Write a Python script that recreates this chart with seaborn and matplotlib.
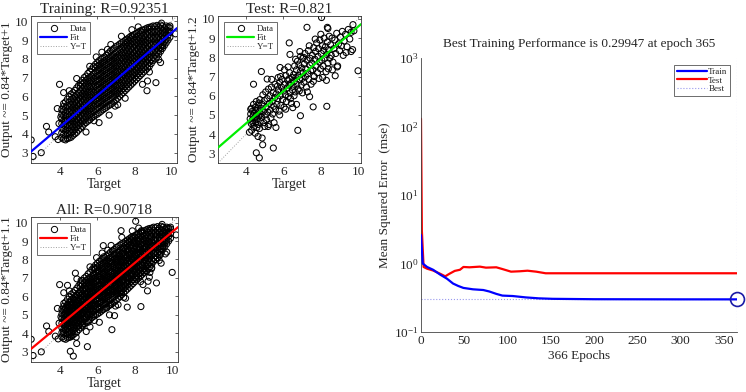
import pandas as pd
import matplotlib
matplotlib.use("Agg")
import matplotlib.pyplot as plt
import seaborn as sns
from matplotlib.lines import Line2D

# ==========================================
# 데이터
# ==========================================
# Training 점군: (Target, [Output ...]) 열 단위로 읽음
TRAIN_COLUMNS = [
    (4.1, [3.80, 4.05, 4.30, 4.55, 4.80, 5.05, 5.30]),
    (4.2, [3.72, 3.97, 4.22, 4.47, 4.72, 4.97, 5.22, 5.47, 5.62]),
    (4.3, [3.68, 3.90, 4.15, 4.40, 4.65, 4.90, 5.15, 5.40, 5.70]),
    (4.4, [3.75, 4.02, 4.27, 4.52, 4.77, 5.02, 5.27, 5.52, 5.85]),
    (4.5, [3.78, 3.95, 4.20, 4.45, 4.70, 4.95, 5.20, 5.45, 5.70, 5.98]),
    (4.6, [3.82, 4.07, 4.32, 4.57, 4.82, 5.07, 5.32, 5.57, 5.82, 6.12]),
    (4.7, [3.92, 4.15, 4.40, 4.65, 4.90, 5.15, 5.40, 5.65, 5.90, 6.20]),
    (4.8, [4.00, 4.25, 4.50, 4.75, 5.00, 5.25, 5.50, 5.75, 6.00, 6.32]),
    (4.9, [4.08, 4.35, 4.60, 4.85, 5.10, 5.35, 5.60, 5.85, 6.10, 6.45]),
    (5.0, [4.20, 4.45, 4.70, 4.95, 5.20, 5.45, 5.70, 5.95, 6.20, 6.58]),
    (5.1, [4.30, 4.55, 4.80, 5.05, 5.30, 5.55, 5.80, 6.05, 6.30, 6.55, 6.72]),
    (5.2, [4.40, 4.65, 4.90, 5.15, 5.40, 5.65, 5.90, 6.15, 6.40, 6.65, 6.85]),
    (5.3, [4.52, 4.75, 5.00, 5.25, 5.50, 5.75, 6.00, 6.25, 6.50, 6.75, 7.00]),
    (5.4, [4.60, 4.85, 5.10, 5.35, 5.60, 5.85, 6.10, 6.35, 6.60, 6.85, 7.08]),
    (5.5, [4.68, 4.95, 5.20, 5.45, 5.70, 5.95, 6.20, 6.45, 6.70, 6.95, 7.22]),
    (5.6, [4.75, 5.02, 5.27, 5.52, 5.77, 6.02, 6.27, 6.52, 6.77, 7.02, 7.32]),
    (5.7, [4.85, 5.10, 5.35, 5.60, 5.85, 6.10, 6.35, 6.60, 6.85, 7.10, 7.45]),
    (5.8, [4.92, 5.20, 5.45, 5.70, 5.95, 6.20, 6.45, 6.70, 6.95, 7.20, 7.58]),
    (5.9, [5.00, 5.28, 5.53, 5.78, 6.03, 6.28, 6.53, 6.78, 7.03, 7.28, 7.53, 7.70]),
    (6.0, [5.05, 5.35, 5.60, 5.85, 6.10, 6.35, 6.60, 6.85, 7.10, 7.35, 7.60, 7.80]),
    (6.1, [5.12, 5.40, 5.65, 5.90, 6.15, 6.40, 6.65, 6.90, 7.15, 7.40, 7.65, 7.90]),
    (6.2, [5.20, 5.48, 5.73, 5.98, 6.23, 6.48, 6.73, 6.98, 7.23, 7.48, 7.73, 7.98]),
    (6.3, [5.28, 5.55, 5.80, 6.05, 6.30, 6.55, 6.80, 7.05, 7.30, 7.55, 7.80, 8.05]),
    (6.4, [5.35, 5.63, 5.88, 6.13, 6.38, 6.63, 6.88, 7.13, 7.38, 7.63, 7.88, 8.10]),
    (6.5, [5.42, 5.70, 5.95, 6.20, 6.45, 6.70, 6.95, 7.20, 7.45, 7.70, 7.95, 8.20]),
    (6.6, [5.50, 5.78, 6.03, 6.28, 6.53, 6.78, 7.03, 7.28, 7.53, 7.78, 8.03, 8.30]),
    (6.7, [5.55, 5.85, 6.10, 6.35, 6.60, 6.85, 7.10, 7.35, 7.60, 7.85, 8.10, 8.40]),
    (6.8, [5.62, 5.92, 6.17, 6.42, 6.67, 6.92, 7.17, 7.42, 7.67, 7.92, 8.17, 8.48]),
    (6.9, [5.70, 6.00, 6.25, 6.50, 6.75, 7.00, 7.25, 7.50, 7.75, 8.00, 8.25, 8.55]),
    (7.0, [5.80, 6.08, 6.33, 6.58, 6.83, 7.08, 7.33, 7.58, 7.83, 8.08, 8.33, 8.65]),
    (7.1, [5.90, 6.15, 6.40, 6.65, 6.90, 7.15, 7.40, 7.65, 7.90, 8.15, 8.40, 8.70]),
    (7.2, [6.00, 6.25, 6.50, 6.75, 7.00, 7.25, 7.50, 7.75, 8.00, 8.25, 8.50, 8.78]),
    (7.3, [6.10, 6.33, 6.58, 6.83, 7.08, 7.33, 7.58, 7.83, 8.08, 8.33, 8.58, 8.85]),
    (7.4, [6.20, 6.42, 6.67, 6.92, 7.17, 7.42, 7.67, 7.92, 8.17, 8.42, 8.67, 8.90]),
    (7.5, [6.30, 6.52, 6.77, 7.02, 7.27, 7.52, 7.77, 8.02, 8.27, 8.52, 8.77, 8.98]),
    (7.6, [6.40, 6.62, 6.87, 7.12, 7.37, 7.62, 7.87, 8.12, 8.37, 8.62, 8.87, 9.05]),
    (7.7, [6.50, 6.72, 6.97, 7.22, 7.47, 7.72, 7.97, 8.22, 8.47, 8.72, 8.97, 9.12]),
    (7.8, [6.60, 6.82, 7.07, 7.32, 7.57, 7.82, 8.07, 8.32, 8.57, 8.82, 9.07, 9.20]),
    (7.9, [6.70, 6.92, 7.17, 7.42, 7.67, 7.92, 8.17, 8.42, 8.67, 8.92, 9.17, 9.25]),
    (8.0, [6.80, 7.02, 7.27, 7.52, 7.77, 8.02, 8.27, 8.52, 8.77, 9.02, 9.30]),
    (8.1, [6.90, 7.12, 7.37, 7.62, 7.87, 8.12, 8.37, 8.62, 8.87, 9.12, 9.35]),
    (8.2, [7.00, 7.22, 7.47, 7.72, 7.97, 8.22, 8.47, 8.72, 8.97, 9.22, 9.42]),
    (8.3, [7.10, 7.32, 7.57, 7.82, 8.07, 8.32, 8.57, 8.82, 9.07, 9.32, 9.48]),
    (8.4, [7.20, 7.42, 7.67, 7.92, 8.17, 8.42, 8.67, 8.92, 9.17, 9.42, 9.52]),
    (8.5, [7.30, 7.52, 7.77, 8.02, 8.27, 8.52, 8.77, 9.02, 9.27, 9.55]),
    (8.6, [7.40, 7.62, 7.87, 8.12, 8.37, 8.62, 8.87, 9.12, 9.37, 9.60]),
    (8.7, [7.50, 7.72, 7.97, 8.22, 8.47, 8.72, 8.97, 9.22, 9.47, 9.65]),
    (8.8, [7.60, 7.82, 8.07, 8.32, 8.57, 8.82, 9.07, 9.32, 9.57, 9.68]),
    (8.9, [7.75, 7.95, 8.20, 8.45, 8.70, 8.95, 9.20, 9.45, 9.70]),
    (9.0, [7.90, 8.08, 8.33, 8.58, 8.83, 9.08, 9.33, 9.58, 9.75]),
    (9.1, [8.00, 8.20, 8.45, 8.70, 8.95, 9.20, 9.45, 9.72]),
    (9.2, [8.10, 8.32, 8.57, 8.82, 9.07, 9.32, 9.57, 9.78]),
    (9.3, [8.25, 8.45, 8.70, 8.95, 9.20, 9.45, 9.70]),
    (9.4, [8.40, 8.60, 8.85, 9.10, 9.35, 9.60, 9.80]),
    (9.5, [8.55, 8.75, 9.00, 9.25, 9.50, 9.75]),
    (9.6, [8.70, 8.90, 9.15, 9.40, 9.65]),
    (9.7, [8.85, 9.05, 9.30, 9.55, 9.75]),
    (9.8, [9.00, 9.25, 9.50, 9.70]),
    (9.9, [9.15, 9.40, 9.65]),
]
# Training 외곽 점 (Target, Output)
TRAIN_OUTLIERS = [
    (2.46, 3.68), (2.56, 2.80), (3.00, 3.00), (3.28, 4.40), (3.40, 4.10), (3.98, 6.64), (3.86, 5.35), (3.95, 4.55),
    (3.75, 3.85), (6.64, 5.00), (6.96, 5.48), (5.83, 4.70), (7.86, 9.55), (8.67, 6.30), (9.50, 8.67), (10.20, 9.33),
    (9.90, 9.75), (7.30, 9.20), (8.80, 7.30), (9.40, 7.80), (6.55, 8.50), (6.73, 8.76), (8.43, 6.64), (8.70, 6.82),
    (9.15, 6.73), (9.30, 7.95), (4.20, 6.20), (4.50, 6.30), (5.40, 4.10), (6.10, 4.60), (7.50, 5.90), (8.20, 9.70),
    (9.45, 9.90), (5.60, 7.60), (4.90, 6.95), (5.95, 8.10), (6.25, 8.35), (7.10, 5.55), (4.05, 4.90), (3.90, 3.70),
]

# Test: (Target, Output)
TEST_POINTS = [
    (4.22, 4.80), (4.25, 5.05), (4.28, 4.55), (4.30, 5.35), (4.33, 4.72), (4.35, 5.20), (4.38, 4.95), (4.40, 5.55),
    (4.42, 4.40), (4.45, 5.10), (4.47, 4.85), (4.50, 5.40), (4.52, 4.62), (4.55, 5.70), (4.57, 5.00), (4.60, 4.78),
    (4.62, 5.25), (4.64, 4.50), (4.66, 5.50), (4.68, 4.95), (4.70, 5.15), (4.72, 4.30), (4.74, 5.80), (4.76, 4.68),
    (4.78, 5.35), (4.80, 5.05), (4.25, 5.30), (4.36, 4.60), (4.48, 5.25), (4.58, 4.35), (4.69, 5.62), (4.30, 4.20),
    (4.84, 4.88), (4.86, 5.55), (4.90, 6.05), (4.93, 5.20), (4.95, 4.60), (4.98, 5.75), (5.02, 5.00), (5.05, 6.20),
    (5.08, 5.40), (5.10, 4.75), (5.13, 5.85), (5.16, 5.15), (5.20, 6.35), (5.22, 4.50), (5.25, 5.60), (5.28, 6.00),
    (5.30, 5.25), (5.33, 4.85), (5.36, 6.45), (5.40, 5.70), (5.42, 5.05), (5.45, 6.15), (5.48, 5.45), (5.50, 4.60),
    (5.53, 5.90), (5.55, 6.60), (5.58, 5.30), (5.00, 4.40), (5.18, 4.40), (5.37, 6.85),
    (5.62, 6.10), (5.65, 5.55), (5.68, 6.50), (5.70, 5.85), (5.74, 6.30), (5.77, 5.20), (5.80, 6.70), (5.83, 6.00),
    (5.86, 5.50), (5.90, 6.45), (5.93, 6.85), (5.96, 5.80), (6.00, 6.25), (6.03, 5.40), (6.06, 6.60), (6.10, 6.05),
    (6.13, 7.05), (6.16, 5.70), (6.20, 6.40), (6.23, 6.80), (6.26, 5.95), (6.30, 6.55), (6.33, 7.20), (6.36, 6.15),
    (6.40, 6.65), (6.43, 5.60), (6.46, 6.95), (6.48, 6.30), (5.85, 7.00), (6.05, 7.35), (6.25, 7.50), (6.12, 5.30),
    (5.72, 6.95), (6.38, 5.85), (6.30, 6.88),
    (6.52, 6.50), (6.55, 7.10), (6.58, 6.75), (6.60, 7.55), (6.63, 6.20), (6.66, 6.95), (6.70, 7.35), (6.72, 6.60),
    (6.75, 7.80), (6.78, 6.35), (6.80, 7.05), (6.83, 7.60), (6.86, 6.85), (6.90, 7.25), (6.92, 8.05), (6.95, 6.55),
    (6.98, 7.45), (7.00, 6.90), (7.03, 7.95), (7.06, 7.20), (7.10, 6.70), (7.12, 7.65), (7.15, 8.20), (7.18, 7.00),
    (7.20, 7.40), (7.23, 6.45), (7.26, 7.85), (7.30, 7.15), (7.33, 8.35), (7.36, 6.85), (7.40, 7.60), (7.43, 7.95),
    (7.46, 7.30), (7.48, 6.60), (6.65, 7.90), (6.88, 8.30), (7.08, 8.00), (7.28, 6.20), (6.57, 6.00), (7.38, 8.60),
    (6.85, 6.25), (7.02, 6.15),
    (7.52, 7.70), (7.55, 8.10), (7.58, 7.35), (7.62, 8.50), (7.65, 7.00), (7.68, 7.90), (7.72, 8.30), (7.75, 7.55),
    (7.78, 8.75), (7.82, 7.20), (7.85, 8.05), (7.88, 8.45), (7.92, 7.75), (7.95, 8.90), (7.98, 7.40), (8.02, 8.20),
    (8.05, 7.85), (8.08, 8.60), (8.12, 7.55), (8.15, 8.35), (8.18, 9.00), (8.22, 7.95), (8.25, 8.55), (8.28, 7.25),
    (8.32, 8.15), (8.35, 8.80), (8.38, 7.70), (8.42, 8.40), (8.45, 9.10), (8.48, 7.95), (7.60, 6.75), (7.90, 6.90),
    (8.10, 6.95), (8.30, 6.80), (7.70, 8.95), (8.00, 9.20), (8.40, 7.40),
    (8.52, 8.65), (8.56, 8.10), (8.60, 9.00), (8.65, 7.75), (8.70, 8.45), (8.75, 8.90), (8.80, 8.20), (8.85, 9.25),
    (8.90, 7.55), (8.95, 8.70), (9.00, 8.35), (9.05, 9.05), (9.10, 8.60), (9.15, 9.35), (9.20, 8.10), (9.25, 8.85),
    (9.32, 9.20), (9.40, 8.55), (9.47, 9.45), (9.55, 8.95), (9.62, 9.30), (9.70, 8.40), (8.62, 7.35), (8.88, 7.50),
    (9.35, 8.25),
    # 외곽 점
    (8.04, 10.07), (7.26, 9.56), (8.35, 9.56), (8.38, 9.50), (9.72, 9.70), (9.77, 9.38), (9.99, 7.30), (9.62, 8.30),
    (6.31, 8.75), (6.35, 8.15), (4.40, 6.60), (4.82, 7.26), (5.13, 6.87), (5.82, 7.47), (4.49, 4.05), (4.64, 3.88),
    (4.86, 3.80), (4.89, 3.45), (5.46, 3.28), (4.55, 3.03), (4.71, 2.77), (6.77, 4.20), (6.91, 4.96), (7.59, 5.42),
    (8.32, 5.45), (6.50, 5.38), (8.77, 7.04), (4.18, 4.10), (5.60, 4.35), (5.80, 5.00), (6.70, 5.55), (7.40, 5.95),
]

TRAIN_R, TEST_R, ALL_R = 0.92351, 0.821, 0.90718
TRAIN_FIT = (0.84, 1.0)   # (기울기, 절편)
TEST_FIT = (0.84, 1.2)
ALL_FIT = (0.84, 1.1)
TRAIN_LIM = (2.45, 10.28)
TEST_LIM = (2.5, 10.15)
ALL_LIM = (2.45, 10.3)

# 학습 성능 곡선
EPOCHS_TRAIN = [0, 2, 7, 14, 22, 30, 37, 43, 49, 60, 72, 79, 87, 94, 106, 121, 136, 152, 200, 300, 365]
MSE_TRAIN = [2.6, 1.0, 0.89, 0.81, 0.69, 0.60, 0.51, 0.47, 0.44, 0.42, 0.41, 0.39, 0.36, 0.34, 0.335, 0.32, 0.31, 0.305, 0.301, 0.2996, 0.29947]
EPOCHS_TEST = [0, 1, 3, 7, 14, 22, 28, 33, 39, 45, 49, 56, 68, 75, 87, 94, 104, 114, 123, 133, 144, 200, 300, 365]
MSE_TEST = [130, 3.0, 0.89, 0.84, 0.79, 0.71, 0.65, 0.71, 0.78, 0.81, 0.89, 0.88, 0.90, 0.87, 0.88, 0.83, 0.76, 0.77, 0.785, 0.76, 0.72, 0.72, 0.72, 0.72]
BEST_EPOCH = 365
BEST_PERF = 0.29947
N_EPOCHS = 366

# ==========================================
# 스타일
# ==========================================
sns.set_style("white")
plt.rcParams["font.family"] = ["Liberation Serif", "DejaVu Serif"]
plt.rcParams["mathtext.fontset"] = "stix"
plt.rcParams["xtick.direction"] = "in"
plt.rcParams["ytick.direction"] = "in"

FIG_W, FIG_H = 746, 392


def fig_rect(left, top, right, bottom):
    return [left / FIG_W, 1 - bottom / FIG_H, (right - left) / FIG_W, (bottom - top) / FIG_H]


def regression_panel(ax, points, fit, r, name, fit_color, lim):
    df = pd.DataFrame(points, columns=["Target", "Output"])
    sns.scatterplot(data=df, x="Target", y="Output", ax=ax, marker="o", s=19,
                    facecolor="none", edgecolor="black", linewidth=0.75, zorder=2)
    slope, intercept = fit
    ax.axline((0, intercept), slope=slope, color=fit_color, lw=1.6, zorder=3)
    ax.axline((0, 0), slope=1, color="#a0a0a0", lw=0.7, ls=":", zorder=1)
    ax.set_xlim(lim)
    ax.set_ylim(lim)
    ax.set_xticks([4, 6, 8, 10])
    ax.set_yticks(range(3, 11))
    ax.tick_params(labelsize=9.5, length=2.5, width=0.5, top=True, right=True, pad=2)
    for sp in ax.spines.values():
        sp.set_linewidth(0.6)
        sp.set_color("#333333")
    ax.set_title(f"{name}: R={r}", fontsize=11, pad=2)
    ax.set_xlabel("Target", fontsize=10, labelpad=0)
    ax.set_ylabel(f"Output ~= {slope}*Target+{intercept:g}", fontsize=9.5, labelpad=1)
    handles = [
        Line2D([], [], marker="o", ls="none", mfc="none", mec="black", ms=4.5, mew=0.7),
        Line2D([], [], color=fit_color, lw=1.6),
        Line2D([], [], color="#a0a0a0", lw=0.7, ls=":"),
    ]
    leg = ax.legend(handles, ["Data", "Fit", "Y=T"], loc="upper left", fontsize=6.5,
                    handlelength=3.0, handletextpad=0.3, labelspacing=0.05,
                    borderpad=0.3, borderaxespad=0.7, fancybox=False, framealpha=1)
    leg.get_frame().set_edgecolor("#555555")
    leg.get_frame().set_linewidth(0.6)


fig = plt.figure(figsize=(FIG_W / 100, FIG_H / 100), dpi=100)

ax_train = fig.add_axes(fig_rect(31, 16, 177, 163))
ax_test = fig.add_axes(fig_rect(218, 16, 361, 163))
ax_all = fig.add_axes(fig_rect(31, 217, 178, 362))
ax_perf = fig.add_axes(fig_rect(421, 58, 737, 332))

train_points = [(t, o) for t, outs in TRAIN_COLUMNS for o in outs] + TRAIN_OUTLIERS

regression_panel(ax_train, train_points, TRAIN_FIT, TRAIN_R, "Training", "#0000ff", TRAIN_LIM)
regression_panel(ax_test, TEST_POINTS, TEST_FIT, TEST_R, "Test", "#00ee00", TEST_LIM)
regression_panel(ax_all, train_points + TEST_POINTS, ALL_FIT, ALL_R, "All", "#ff0000", ALL_LIM)

# ==========================================
# 성능 곡선
# ==========================================
ax = ax_perf
ax.set_yscale("log")
sns.lineplot(x=EPOCHS_TRAIN, y=MSE_TRAIN, ax=ax, color="#0000ff", lw=1.6, zorder=3)
sns.lineplot(x=EPOCHS_TEST, y=MSE_TEST, ax=ax, color="#ff0000", lw=1.6, zorder=2)
best_kw = dict(color="#9999ee", lw=0.8, ls=":")
ax.plot([0, BEST_EPOCH], [BEST_PERF, BEST_PERF], **best_kw, zorder=1)
ax.axvline(BEST_EPOCH, **best_kw, zorder=1)
ax.plot([BEST_EPOCH], [BEST_PERF], marker="o", ms=10, mfc="none", mec="#1a1aa6", mew=1.2,
        clip_on=False, zorder=4)
ax.set_xlim(0, BEST_EPOCH)
ax.set_ylim(0.1, 1000)
ax.set_xticks(range(0, 351, 50))
ax.tick_params(labelsize=9.5, length=2.5, width=0.5, pad=2)
ax.tick_params(which="minor", length=1.5, width=0.4)
ax.spines["top"].set_visible(False)
ax.spines["right"].set_visible(False)
for s in ("left", "bottom"):
    ax.spines[s].set_linewidth(0.6)
    ax.spines[s].set_color("#444444")
ax.set_title(f"Best Training Performance is {BEST_PERF} at epoch {BEST_EPOCH}", fontsize=9.5, pad=8)
ax.set_xlabel(f"{N_EPOCHS} Epochs", fontsize=9.5, labelpad=2)
ax.set_ylabel("Mean Squared Error  (mse)", fontsize=9.5, labelpad=2)
handles = [
    Line2D([], [], color="#0000ff", lw=1.6),
    Line2D([], [], color="#ff0000", lw=1.6),
    Line2D([], [], **best_kw),
]
leg = ax.legend(handles, ["Train", "Test", "Best"], loc="upper right", fontsize=6.5,
                handlelength=3.4, handletextpad=0.1, labelspacing=0.05,
                borderpad=0.25, borderaxespad=0.8, fancybox=False, framealpha=1)
leg.get_frame().set_edgecolor("#555555")
leg.get_frame().set_linewidth(0.6)

fig.savefig("out.png", dpi=100)
